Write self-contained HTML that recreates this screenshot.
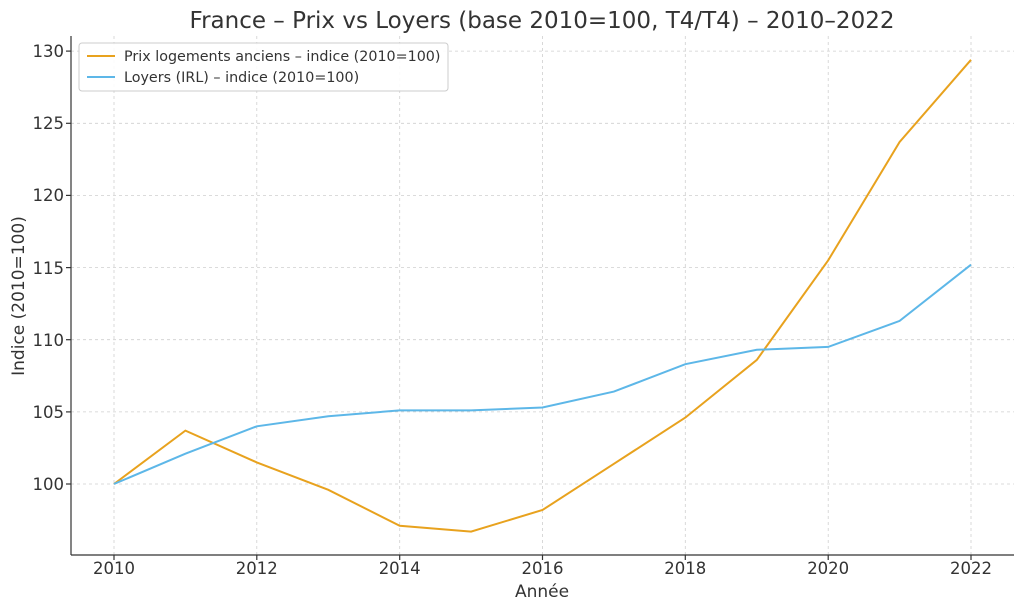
<!DOCTYPE html>
<html><head><meta charset="utf-8"><style>body{margin:0;background:#fff}svg{display:block}text{font-family:"DejaVu Sans","Liberation Sans",sans-serif;fill:#333}</style></head>
<body>
<svg width="1024" height="611" viewBox="0 0 1024 611" xmlns="http://www.w3.org/2000/svg">
<rect width="1024" height="611" fill="#fff"/>
<text x="542" y="28" font-size="23" text-anchor="middle">France – Prix vs Loyers (base 2010=100, T4/T4) – 2010–2022</text>
<g stroke="#cfcfcf" stroke-width="0.8" stroke-dasharray="3,3">
<line x1="71" x2="1014" y1="484" y2="484"/><line x1="71" x2="1014" y1="411.9" y2="411.9"/><line x1="71" x2="1014" y1="339.7" y2="339.7"/><line x1="71" x2="1014" y1="267.6" y2="267.6"/><line x1="71" x2="1014" y1="195.4" y2="195.4"/><line x1="71" x2="1014" y1="123.3" y2="123.3"/><line x1="71" x2="1014" y1="51.1" y2="51.1"/>
<line x1="114" x2="114" y1="36" y2="555"/><line x1="256.8" x2="256.8" y1="36" y2="555"/><line x1="399.7" x2="399.7" y1="36" y2="555"/><line x1="542.5" x2="542.5" y1="36" y2="555"/><line x1="685.3" x2="685.3" y1="36" y2="555"/><line x1="828.2" x2="828.2" y1="36" y2="555"/><line x1="971" x2="971" y1="36" y2="555"/>
</g>
<g stroke="#333" stroke-width="1.2">
<line x1="71" y1="36" x2="71" y2="555"/><line x1="71" y1="555" x2="1014" y2="555"/>
<line x1="66" x2="71" y1="484" y2="484"/><line x1="66" x2="71" y1="411.9" y2="411.9"/><line x1="66" x2="71" y1="339.7" y2="339.7"/><line x1="66" x2="71" y1="267.6" y2="267.6"/><line x1="66" x2="71" y1="195.4" y2="195.4"/><line x1="66" x2="71" y1="123.3" y2="123.3"/><line x1="66" x2="71" y1="51.1" y2="51.1"/>
<line x1="114" x2="114" y1="555" y2="560"/><line x1="256.8" x2="256.8" y1="555" y2="560"/><line x1="399.7" x2="399.7" y1="555" y2="560"/><line x1="542.5" x2="542.5" y1="555" y2="560"/><line x1="685.3" x2="685.3" y1="555" y2="560"/><line x1="828.2" x2="828.2" y1="555" y2="560"/><line x1="971" x2="971" y1="555" y2="560"/>
</g>
<g font-size="16.5" text-anchor="end">
<text x="64" y="490">100</text><text x="64" y="418">105</text><text x="64" y="346">110</text><text x="64" y="274">115</text><text x="64" y="201">120</text><text x="64" y="129">125</text><text x="64" y="57">130</text>
</g>
<g font-size="16.5" text-anchor="middle">
<text x="114" y="574">2010</text><text x="256.8" y="574">2012</text><text x="399.7" y="574">2014</text><text x="542.5" y="574">2016</text><text x="685.3" y="574">2018</text><text x="828.2" y="574">2020</text><text x="971" y="574">2022</text>
<text x="542" y="597" font-size="17">Année</text>
<text transform="translate(24,296) rotate(-90)" font-size="17">Indice (2010=100)</text>
</g>
<polyline fill="none" stroke="#e8a21e" stroke-width="2" points="114,484 185.4,430.6 256.8,462.4 328.3,489.8 399.7,525.8 471.1,531.6 542.5,510 613.9,463.8 685.3,417.6 756.8,359.9 828.2,260.3 899.6,142 971,59.8"/>
<polyline fill="none" stroke="#5db7e8" stroke-width="2" points="114,484 185.4,453.7 256.8,426.3 328.3,416.2 399.7,410.4 471.1,410.4 542.5,407.5 613.9,391.6 685.3,364.2 756.8,349.8 828.2,346.9 899.6,320.9 971,264.7"/>
<rect x="79" y="43" width="369" height="48" rx="3" fill="#fff" fill-opacity="0.9" stroke="#ccc"/>
<line x1="87" x2="115" y1="56" y2="56" stroke="#e8a21e" stroke-width="2"/>
<line x1="87" x2="115" y1="77" y2="77" stroke="#5db7e8" stroke-width="2"/>
<text x="124" y="61" font-size="14.3">Prix logements anciens – indice (2010=100)</text>
<text x="124" y="82" font-size="14.3">Loyers (IRL) – indice (2010=100)</text>
</svg>
</body></html>
